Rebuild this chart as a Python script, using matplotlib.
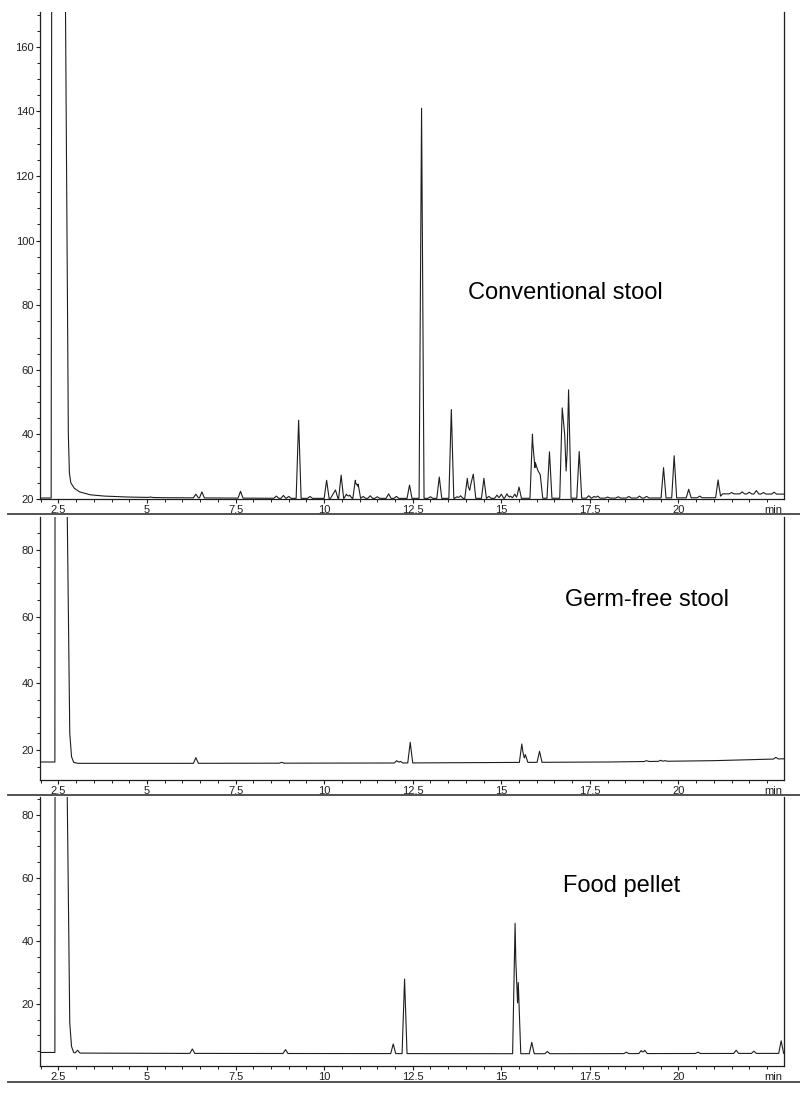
import numpy as np
import matplotlib
matplotlib.use("Agg")
import matplotlib.pyplot as plt
from matplotlib.ticker import MultipleLocator, FixedLocator
from matplotlib.lines import Line2D

plt.rcParams['font.family'] = ['Liberation Sans', 'DejaVu Sans']

# --- data (time in min, signal in detector units) ---

# Conventional stool: baseline knots (incl. solvent peak) and peak apexes
conv_base_t = [1.9, 2.295, 2.33, 2.69, 2.70, 2.78, 2.81, 2.85, 2.95, 3.1, 3.4, 3.8, 4.5, 5.5,
               9.0, 15.0, 19.0, 21.15, 21.25, 23.1]
conv_base_v = [20.3, 20.3, 400, 400, 171, 40, 28, 25, 23.3, 22.2, 21.3, 20.9, 20.6, 20.4,
               20.2, 20.2, 20.3, 20.4, 21.6, 21.5]
conv_peak_t = [5.10, 6.38, 6.55, 7.64, 8.65, 8.85, 9.00, 9.28, 9.60, 10.07, 10.25, 10.32, 10.48,
               10.63, 10.72, 10.88, 10.96, 11.10, 11.30, 11.50, 11.82, 12.04, 12.41, 12.75,
               13.00, 13.25, 13.59, 13.75, 13.85, 14.04, 14.14, 14.21, 14.51, 14.65, 14.88,
               15.00, 15.16, 15.26, 15.38, 15.50, 15.88, 15.96, 16.03, 16.10, 16.36, 16.72,
               16.79, 16.90, 17.20, 17.47, 17.62, 17.72, 18.00, 18.30, 18.60, 18.90, 19.10,
               19.58, 19.88, 20.29, 20.60, 21.12, 21.50, 21.80, 22.00, 22.20, 22.40, 22.70]
conv_peak_v = [20.6, 21.5, 22.2, 22.4, 20.9, 21.1, 20.8, 44.4, 20.8, 25.8, 21.5, 22.8, 27.4,
               21.5, 21.2, 25.8, 24.6, 20.8, 21.0, 20.7, 21.6, 20.8, 24.3, 141.0,
               20.7, 26.8, 47.7, 20.7, 21.0, 26.4, 24.6, 27.7, 26.4, 20.8, 21.2,
               21.5, 21.6, 20.9, 21.5, 23.7, 40.1, 31.3, 28.9, 27.5, 34.6, 48.2,
               39.9, 53.8, 34.7, 21.0, 20.8, 20.9, 20.6, 20.7, 20.8, 20.9, 20.8,
               29.7, 33.4, 23.0, 20.9, 25.9, 22.0, 22.2, 22.1, 22.6, 22.0, 22.1]

# Germ-free stool
germ_base_t = [1.9, 2.40, 2.42, 2.73, 2.75, 2.82, 2.87, 2.93, 3.05, 6.0, 12.0, 18.0, 21.0, 23.1]
germ_base_v = [16.4, 16.4, 400, 400, 90, 25, 18, 16.3, 16.0, 16.0, 16.1, 16.4, 16.8, 17.4]
germ_peak_t = [6.38, 8.80, 12.05, 12.15, 12.43, 15.58, 15.68, 16.08, 19.10, 19.50, 19.62, 22.75]
germ_peak_v = [17.7, 16.3, 16.8, 16.6, 22.3, 21.8, 18.6, 19.6, 16.8, 16.9, 16.8, 17.8]

# Food pellet
food_base_t = [1.9, 2.40, 2.42, 2.73, 2.75, 2.82, 2.87, 2.93, 3.0, 6.0, 16.0, 22.5, 23.1]
food_base_v = [4.6, 4.6, 400, 400, 85, 14, 6.5, 4.6, 4.4, 4.3, 4.2, 4.3, 4.3]
food_peak_t = [3.04, 6.28, 8.91, 11.95, 12.27, 15.39, 15.48, 15.86, 16.30, 18.53, 18.95,
               19.05, 20.55, 21.63, 22.13, 22.90]
food_peak_v = [5.3, 5.7, 5.5, 7.3, 27.9, 45.6, 26.8, 7.8, 4.9, 4.7, 5.2, 5.3, 4.7, 5.3, 5.0, 8.3]

xtick_vals = [2.5, 5, 7.5, 10, 12.5, 15, 17.5, 20]
xtick_labels = ['2.5', '5', '7.5', '10', '12.5', '15', '17.5', '20']

panels = [
    dict(base_t=conv_base_t, base_v=conv_base_v, peak_t=conv_peak_t, peak_v=conv_peak_v,
         label="Conventional stool", ylim=(20, 170.8), yticks=[20, 40, 60, 80, 100, 120, 140, 160],
         box=(12, 499), text_xy=(468, 293)),
    dict(base_t=germ_base_t, base_v=germ_base_v, peak_t=germ_peak_t, peak_v=germ_peak_v,
         label="Germ-free stool", ylim=(11, 89.9), yticks=[20, 40, 60, 80],
         box=(517, 780), text_xy=(565, 600)),
    dict(base_t=food_base_t, base_v=food_base_v, peak_t=food_peak_t, peak_v=food_peak_v,
         label="Food pellet", ylim=(0.3, 85.7), yticks=[20, 40, 60, 80],
         box=(797, 1066), text_xy=(563, 886)),
]

W, H = 800, 1099
PEAK_HW = 0.07  # half width of a peak at its base (min)
LINE_C = '#1e1e1e'
TICK_LEN, TICK_PAD, TICK_FS = 3.2, 1.0, 8.0


def build_trace(base_t, base_v, peak_t, peak_v, hw=PEAK_HW):
    base_t = np.asarray(base_t, float)
    base_v = np.asarray(base_v, float)
    peak_t = np.asarray(peak_t, float)
    peak_v = np.asarray(peak_v, float)
    t = np.unique(np.concatenate([base_t, peak_t - hw, peak_t, peak_t + hw]))
    y = np.interp(t, base_t, base_v)
    for pt, pv in zip(peak_t, peak_v):
        amp = pv - np.interp(pt, base_t, base_v)
        y = y + np.clip(amp * (1 - np.abs(t - pt) / hw), 0, None)
    return t, y


fig = plt.figure(figsize=(W / 100, H / 100), dpi=100)

for p in panels:
    top, bot = p['box']
    ax = fig.add_axes([40 / W, 1 - bot / H, 744 / W, (bot - top) / H])
    t, y = build_trace(p['base_t'], p['base_v'], p['peak_t'], p['peak_v'])
    ax.plot(t, y, color=LINE_C, lw=0.8)

    ax.set_xlim(1.98, 22.98)
    ax.set_ylim(*p['ylim'])
    ax.spines['top'].set_visible(False)
    for s in ['left', 'bottom', 'right']:
        ax.spines[s].set_linewidth(0.9)
        ax.spines[s].set_color(LINE_C)

    ax.xaxis.set_major_locator(FixedLocator(xtick_vals))
    ax.set_xticklabels(xtick_labels)
    ax.xaxis.set_minor_locator(MultipleLocator(0.5))
    ax.set_yticks(p['yticks'])
    ax.yaxis.set_minor_locator(MultipleLocator(5))
    ax.tick_params(which='major', direction='out', length=TICK_LEN, width=0.8, pad=TICK_PAD,
                   labelsize=TICK_FS, colors=LINE_C)
    ax.tick_params(which='minor', direction='out', length=2.2, width=0.7, colors=LINE_C)
    ax.tick_params(axis='y', which='both', right=False)
    ax.annotate('min', xy=(22.93, 0), xycoords=ax.get_xaxis_transform(),
                xytext=(0, -(TICK_LEN + TICK_PAD)), textcoords='offset points',
                ha='right', va='top', fontsize=TICK_FS, color=LINE_C)

    tx, ty = p['text_xy']
    fig.text(tx / W, 1 - ty / H, p['label'], fontsize=17, va='center', ha='left', color='black')

# separator rules between the panels
for yy in [514, 795, 1082]:
    fig.add_artist(Line2D([8 / W, 1.0], [1 - yy / H, 1 - yy / H], color='#444444', lw=1.3))

fig.savefig('out.png', dpi=100)
